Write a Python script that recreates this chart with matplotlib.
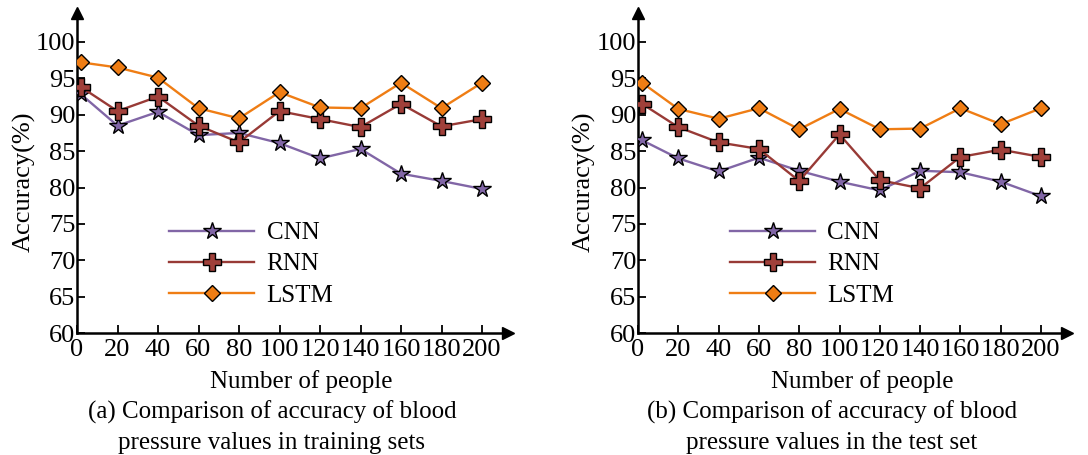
import matplotlib
matplotlib.use("Agg")
import matplotlib.pyplot as plt
import numpy as np

people = [2, 20, 40, 60, 80, 100, 120, 140, 160, 180, 200]
xticks = [0, 20, 40, 60, 80, 100, 120, 140, 160, 180, 200]
yticks = [60, 65, 70, 75, 80, 85, 90, 95, 100]

train_cnn = [92.8, 88.5, 90.4, 87.2, 87.5, 86.1, 84.0, 85.3, 81.9, 80.9, 79.8]
train_rnn = [93.8, 90.5, 92.5, 88.5, 86.2, 90.5, 89.4, 88.3, 91.5, 88.4, 89.4]
train_lstm = [97.2, 96.5, 95.1, 90.9, 89.5, 93.1, 91.0, 90.9, 94.4, 90.9, 94.4]

test_cnn = [86.5, 84.0, 82.2, 84.1, 82.3, 80.8, 79.6, 82.3, 82.1, 80.8, 78.8]
test_rnn = [91.5, 88.3, 86.2, 85.3, 80.9, 87.3, 81.0, 79.9, 84.2, 85.2, 84.2]
test_lstm = [94.4, 90.8, 89.45, 90.9, 88.0, 90.8, 88.0, 88.1, 90.9, 88.7, 90.9]

captions = ["(a) Comparison of accuracy of blood\npressure values in training sets",
            "(b) Comparison of accuracy of blood\npressure values in the test set"]

plt.rcParams['font.family'] = ['Liberation Serif', 'DejaVu Serif']

W, H = 1088, 455
fig = plt.figure(figsize=(W / 100, H / 100), dpi=100)


def fx(px):
    return px / W


def fy(py):
    return 1 - py / H


def panel(x0, x200, series, caption, xlab_c, cap_c, ylab_x):
    # axis box: data 0..200 spans x0..x200 px, 60..100 spans 333..42 px
    ppu_x = (x200 - x0) / 200.0
    ppu_y = (333 - 42) / 40.0
    xmax = 213
    ymax = 60 + (333 - 13) / ppu_y
    ax_w = xmax * ppu_x
    ax = fig.add_axes([fx(x0), fy(333), ax_w / W, (333 - 13) / H])
    ax.set_xlim(0, xmax)
    ax.set_ylim(60, ymax)
    for s in ['top', 'right']:
        ax.spines[s].set_visible(False)
    for s in ['left', 'bottom']:
        ax.spines[s].set_linewidth(1.8)
    ax.plot(1, 0, '>k', markersize=9, transform=ax.transAxes, clip_on=False)
    ax.plot(0, 1, '^k', markersize=9, transform=ax.transAxes, clip_on=False)
    ax.set_xticks(xticks)
    ax.set_yticks(yticks)
    ax.tick_params(direction='in', length=6, width=1.3, labelsize=19)
    ax.tick_params(axis='x', pad=4)
    ax.tick_params(axis='y', pad=1)

    cnn, rnn, lstm = series
    ax.plot(people, cnn, color='#8166a6', lw=1.7, marker='*', ms=13,
            mfc='#8166a6', mec='black', mew=1.0, label='CNN', zorder=3)
    ax.plot(people, rnn, color='#983a36', lw=1.7, marker='P', ms=13,
            mfc='#a0403a', mec='black', mew=1.0, label='RNN', zorder=4)
    ax.plot(people, lstm, color='#ef7d14', lw=1.7, marker='D', ms=8,
            mfc='#ef7d14', mec='black', mew=1.0, label='LSTM', zorder=5)

    ax.legend(loc='upper left', frameon=False, fontsize=18,
              bbox_to_anchor=(92 / ax_w, (333 - 222) / (333 - 13)),
              handlelength=3.4, handletextpad=0.5, labelspacing=0.34,
              borderaxespad=0, borderpad=0)

    fig.text(fx(xlab_c), fy(382), 'Number of people', ha='center', va='center', fontsize=18)
    fig.text(fx(cap_c), fy(427), caption, ha='center', va='center', fontsize=18,
             linespacing=1.45)
    fig.text(fx(ylab_x), fy(182), 'Accuracy(%)', ha='center', va='center',
             rotation=90, fontsize=19)
    return ax


panel(77, 482, (train_cnn, train_rnn, train_lstm), captions[0], 301, 272, 24)
panel(638, 1041, (test_cnn, test_rnn, test_lstm), captions[1], 862, 832, 584)

fig.savefig('out.png', dpi=100)
